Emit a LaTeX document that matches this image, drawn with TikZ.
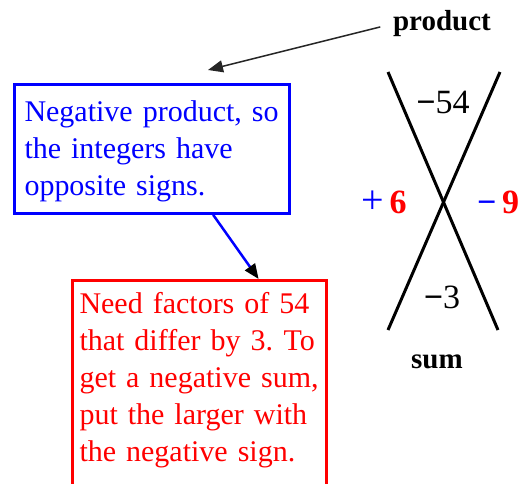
\documentclass[tikz,border=0pt]{standalone}
\usepackage{fontspec}
\setmainfont{Liberation Serif}
\usetikzlibrary{arrows.meta,calc}

\begin{document}
\begin{tikzpicture}[
  x=1pt, y=-1pt,
  txt/.style={font=\fontsize{30}{37}\selectfont},
  note/.style={draw, line width=3pt, align=left, anchor=north west, txt},
  bluebox/.style={note, draw=blue, text=blue, text width=255pt, inner xsep=10pt, inner ysep=16pt, text depth=76pt},
  redbox/.style={note, draw=red, text=red, text width=240pt, inner xsep=7pt, inner ysep=12pt, text depth=200pt},
  num/.style={font=\fontsize{34}{40}\selectfont, inner sep=0pt},
  word/.style={font=\fontsize{29}{34}\selectfont\bfseries, inner sep=1pt},
  xline/.style={line width=3pt},
  arr/.style={-{Triangle[length=15pt,width=12pt]}, line width=1.5pt, black!85},
  barr/.style={-{Triangle[length=15pt,width=12pt,color=black]}, draw=blue, line width=2.5pt}
]
\clip (0,0) rectangle (523,483);

\node[word] (product) at (442,24) {product};
\node[bluebox] (negbox) at (13,83) {Negative product, so\\the integers have\\opposite signs.};
\node[redbox] (needbox) at (71,279) {Need factors of 54\\that differ by 3.\hspace{0.35em}To\\get a negative sum,\\put the larger with\\the negative sign.};

\coordinate (xtl) at (388,72);
\coordinate (xbr) at (498,330);
\coordinate (xtr) at (500,72);
\coordinate (xbl) at (388,330);
\draw[xline] (xtl) -- (xbr);
\draw[xline] (xtr) -- (xbl);

\node[num] (prodnum) at (443,102) {{\bfseries −}54};
\node[num] (sumnum) at (442,297) {{\bfseries −}3};
\node[num] (leftnum) at (384,202) {\textcolor{blue}{\fontsize{40}{40}\selectfont +}\,\textcolor{red}{\bfseries 6}};
\node[num, anchor=west] (rightnum) at (477,202) {\textcolor{blue}{\bfseries −}\,\textcolor{red}{\bfseries 9}};
\node[word] (sum) at (437,362) {sum};

\coordinate (ptip) at (208,70);
\draw[arr, shorten <=12pt] (product.west) -- (ptip);
\draw[barr] ($(negbox.south west)!0.72!(negbox.south east)$) -- ($(needbox.north west)!0.73!(needbox.north east)$);
\end{tikzpicture}
\end{document}
